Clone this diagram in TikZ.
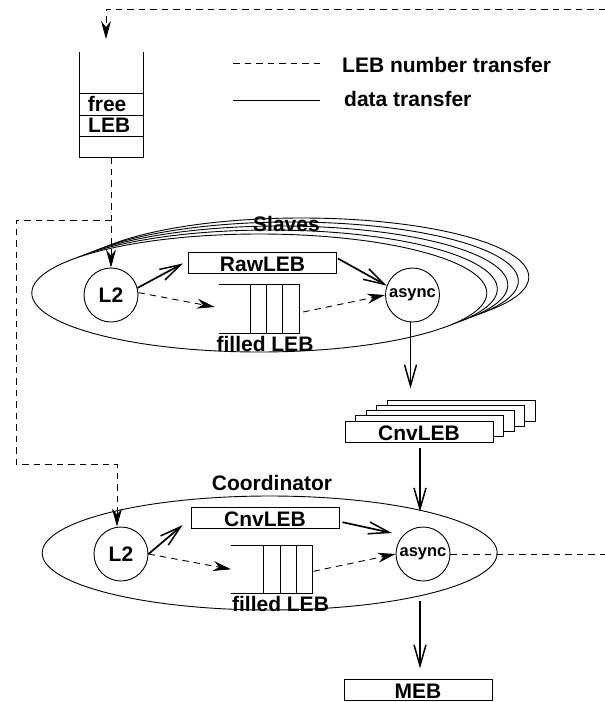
\documentclass[tikz,border=0pt]{standalone}
\usepackage{fontspec}
\setmainfont{Liberation Sans}
\usetikzlibrary{arrows.meta,calc,shapes.geometric}
\begin{document}
\begin{tikzpicture}[x=1pt,y=-1pt,
  thinl/.style={line width=0.9pt},
  bigfont/.style={font=\bfseries\fontsize{21pt}{21pt}\selectfont},
  smallfont/.style={font=\bfseries\fontsize{16.5pt}{16.5pt}\selectfont},
  lbl/.style={bigfont, inner sep=0},
  proc/.style={circle, draw, thinl, fill=white, minimum size=54pt, inner sep=0},
  databox/.style={draw, thinl, fill=white, minimum width=148pt, inner sep=0,
    text height=19pt, text depth=2pt, bigfont},
  group/.style={ellipse, draw, thinl, fill=white, inner sep=0,
    minimum width=455pt},
  queuebox/.style={minimum width=80pt, minimum height=48pt, inner sep=0},
  numline/.style={thinl, dash pattern=on 6.5pt off 5pt},
  numflow/.style={numline, -{Stealth[length=18pt,width=10pt,inset=6pt]}},
  dataflow/.style={line width=1.7pt,
    -{Straight Barb[length=21pt,width=12pt,line width=1.5pt]}}
]
\useasboundingbox (0,0) rectangle (605,702);

% ---------- legend ----------
\coordinate (lgA) at (233,63);  \coordinate (lgB) at (320,63);
\coordinate (lgC) at (233,100); \coordinate (lgD) at (320,100);
\draw[numline] (lgA) -- (lgB);
\draw[thinl] (lgC) -- (lgD);
\node[lbl, anchor=base west] (lgnum) at (342,72.3) {LEB number transfer};
\node[lbl, anchor=base west] (lgdata) at (344,106.7) {data transfer};

% ---------- free LEB stack ----------
\node[queuebox, minimum width=63.7pt, minimum height=105pt] (stack) at (111,104.5) {};
\draw[thinl] (stack.north west) -- (stack.south west) -- (stack.south east) -- (stack.north east);
\foreach \yy in {93.7,115,136}
  \draw[thinl] (stack.west |- 0,\yy) -- (stack.east |- 0,\yy);
\node[lbl, anchor=base west] (freetxt) at (87.7,111) {free};
\node[lbl, anchor=base west] (lebtxt) at (88,132.7) {LEB};

% ---------- slaves ----------
\foreach \k in {4,3,2,1}
  \node[group, minimum height=118pt] (sl\k) at ({259.3+10.5*\k},{293-4*\k}) {};
\node[group, minimum height=118pt] (slaves) at (259.3,293) {};
\node[lbl, anchor=base] (slavestxt) at (286.5,231.7) {Slaves};

\node[proc, bigfont] (l2s) at (111,295) {L2};
\node[proc, smallfont] (as) at (412.5,295) {async};
\node[databox] (raw) at (262.5,262.5) {RawLEB};

\node[queuebox] (q1) at (259,309) {};
\draw[thinl] (q1.north west) -- (q1.north east) -- (q1.south east) -- (q1.south west);
\foreach \d in {32,48,64}
  \draw[thinl] ($(q1.north west)+(\d,0)$) -- ($(q1.south west)+(\d,0)$);
\node[lbl, anchor=base] (q1txt) at (265,351) {filled LEB};

% ---------- converted LEB stack ----------
\foreach \k in {4,3,2,1}
  \node[databox] (cnv\k) at ({419+10.6*\k},{431.7-5.3*\k}) {};
\node[databox] (cnv0) at (419,431.7) {CnvLEB};

% ---------- coordinator ----------
\node[group, minimum height=114pt] (coord) at (269.7,553) {};
\node[lbl, anchor=base] (coordtxt) at (272,490.7) {Coordinator};
\node[proc, bigfont] (l2c) at (121,554) {L2};
\node[proc, smallfont] (asc) at (423,554) {async};
\node[databox] (cbox) at (265,518.2) {CnvLEB};

\node[queuebox, minimum width=81pt] (q2) at (271.7,569.3) {};
\draw[thinl] (q2.north west) -- (q2.north east) -- (q2.south east) -- (q2.south west);
\foreach \d in {32,49,65}
  \draw[thinl] ($(q2.north west)+(\d,0)$) -- ($(q2.south west)+(\d,0)$);
\node[lbl, anchor=base] (q2txt) at (280.5,611) {filled LEB};

\node[databox] (meb) at (418,689.8) {MEB};

% ---------- LEB number transfers ----------
\coordinate (topR) at (605,9);
\coordinate (topL) at (106,9);
\coordinate (freeIn) at (106,39);
\draw[numflow] (topR) -- (topL) -- (freeIn);

\coordinate (j1) at (111,220);
\coordinate (lw1) at (16,220);
\coordinate (lw2) at (16,464);
\coordinate (lw3) at (117,464);
\draw[numflow] (stack.south) -- (l2s.north);
\draw[numflow] (j1) -- (lw1) -- (lw2) -- (lw3) -- (lw3 |- l2c.north);

\draw[numflow] (l2s.5) -- ($(q1.west)+(-4,-2)$);
\draw[numflow] ($(q1.east)+(4,3)$) -- (as.west);
\draw[numflow] (l2c.east) -- (q2.west);
\draw[numflow] ($(q2.east)+(1,2)$) -- (asc.west);

\coordinate (rgt) at (605,554);
\draw[numline] (asc.east) -- (rgt);

% ---------- data transfers ----------
\draw[dataflow] (l2s.15) -- ($(raw.south west)+(-5,-10)$);
\draw[dataflow] ($(raw.east)+(1,-4)$) -- (as.160);
\draw[dataflow] ($(as.south)+(-2,0)$) -- ++(0,66);
\draw[dataflow] ($(cnv0.south)+(1,5)$) -- ++(0,64);
\draw[dataflow] (l2c.east) -- ($(cbox.south west)+(-8,-4)$);
\draw[dataflow] ($(cbox.east)+(3,4)$) -- ($(asc)+(-31,-21)$);
\draw[dataflow] ($(asc.south)+(-3,20)$) -- ++(0,67);
\end{tikzpicture}
\end{document}
